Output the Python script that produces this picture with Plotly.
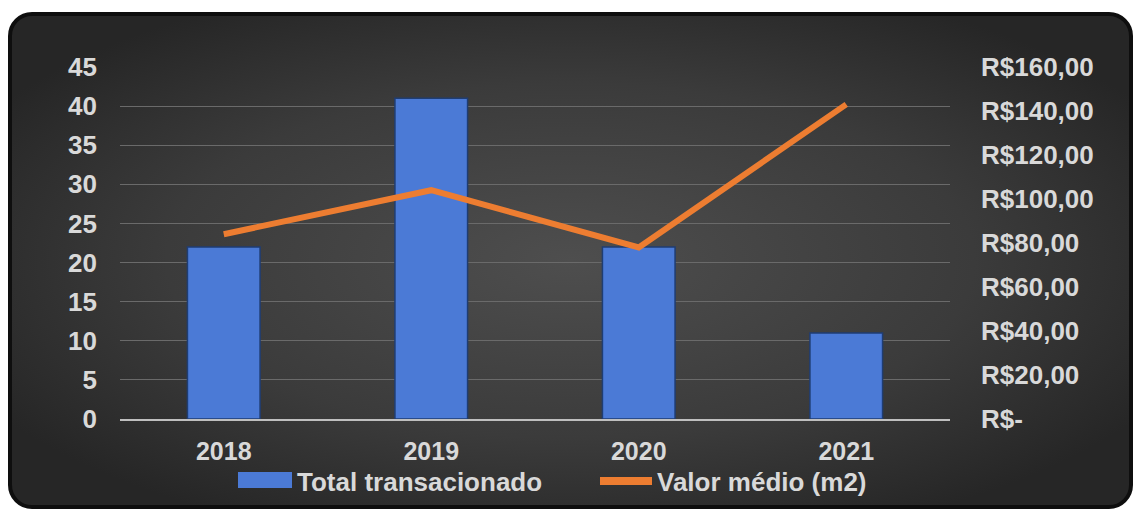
import base64
import plotly.graph_objects as go

# ---- data ----
years = ["2018", "2019", "2020", "2021"]
total_transacionado = [22, 41, 22, 11]
valor_medio = [84, 104, 78, 143]
left_ticks = [0, 5, 10, 15, 20, 25, 30, 35, 40, 45]
right_ticks = [0, 20, 40, 60, 80, 100, 120, 140, 160]
right_ticktext = ["R$-", "R$20,00", "R$40,00", "R$60,00", "R$80,00",
                  "R$100,00", "R$120,00", "R$140,00", "R$160,00"]
legend_names = ["Total transacionado", "Valor médio (m2)"]

W, H = 1134, 511
L, R, T, B = 120, 184, 67, 92
PW, PH = W - L - R, H - T - B

def px(x):
    return (x - L) / PW

def py(y):
    return (H - B - y) / PH

FONT = "Liberation Sans, Arial, sans-serif"
TXT = "#d9d9d9"

# background frame with radial gradient (decoration)
fx0, fy0, fx1, fy1 = 8, 12, 1133, 509
fw, fh = fx1 - fx0, fy1 - fy0
svg = (
    f'<svg xmlns="http://www.w3.org/2000/svg" width="{fw}" height="{fh}" viewBox="0 0 {fw} {fh}">'
    '<defs><radialGradient id="g" cx="0.5" cy="0.5" r="0.6">'
    '<stop offset="0" stop-color="#4e4e4e"/><stop offset="0.6" stop-color="#3b3b3b"/>'
    '<stop offset="1" stop-color="#262626"/></radialGradient></defs>'
    f'<rect x="2" y="2" width="{fw-4}" height="{fh-4}" rx="22" ry="22" fill="url(#g)" '
    'stroke="#0e0e0e" stroke-width="4"/></svg>'
)
src = "data:image/svg+xml;base64," + base64.b64encode(svg.encode()).decode()

fig = go.Figure()
fig.add_trace(go.Bar(
    x=years, y=total_transacionado, name=legend_names[0], width=0.35,
    marker=dict(color="#4b7ad6", line=dict(color="#1f3d73", width=1.5)),
    yaxis="y",
))
fig.add_trace(go.Scatter(
    x=years, y=valor_medio, name=legend_names[1], mode="lines",
    line=dict(color="#ED7D31", width=6), yaxis="y2",
))

fig.update_layout(
    width=W, height=H,
    margin=dict(l=L, r=R, t=T, b=B),
    paper_bgcolor="white", plot_bgcolor="rgba(0,0,0,0)",
    showlegend=False,
    font=dict(family=FONT, size=26, color=TXT, weight="bold"),
    xaxis=dict(type="category", range=[-0.5, 3.5], showgrid=False,
               showline=True, linecolor="#bfbfbf", linewidth=2,
               ticks="", tickfont=dict(family=FONT, size=25, color=TXT, weight="bold"),
               ticklabelstandoff=9),
    yaxis=dict(range=[0, 45], tickvals=left_ticks, showgrid=True,
               gridcolor="#6a6a6a", gridwidth=1, zeroline=False,
               ticks="", tickfont=dict(family=FONT, size=26, color=TXT, weight="bold"),
               ticklabelstandoff=22),
    yaxis2=dict(range=[0, 160], overlaying="y", side="right",
                tickvals=right_ticks, ticktext=right_ticktext,
                showgrid=False, zeroline=False, ticks="",
                tickfont=dict(family=FONT, size=26, color=TXT, weight="bold"),
                ticklabelstandoff=30),
    images=[dict(source=src, xref="paper", yref="paper",
                 x=px(fx0), y=py(fy0), sizex=fw / PW, sizey=fh / PH,
                 xanchor="left", yanchor="top", sizing="stretch", layer="below")],
)

# manual legend
fig.add_shape(type="rect", xref="paper", yref="paper",
              x0=px(238), x1=px(292), y0=py(472), y1=py(488),
              fillcolor="#4b7ad6", line=dict(width=0))
fig.add_shape(type="line", xref="paper", yref="paper",
              x0=px(600), x1=px(652), y0=py(481), y1=py(481),
              line=dict(color="#ED7D31", width=8))
fig.add_annotation(xref="paper", yref="paper", x=px(295), y=py(482),
                   text=legend_names[0], showarrow=False, xanchor="left",
                   yanchor="middle", font=dict(family=FONT, size=26, color=TXT, weight="bold"))
fig.add_annotation(xref="paper", yref="paper", x=px(655), y=py(482),
                   text=legend_names[1], showarrow=False, xanchor="left",
                   yanchor="middle", font=dict(family=FONT, size=26, color=TXT, weight="bold"))

fig.write_html("out.html")
